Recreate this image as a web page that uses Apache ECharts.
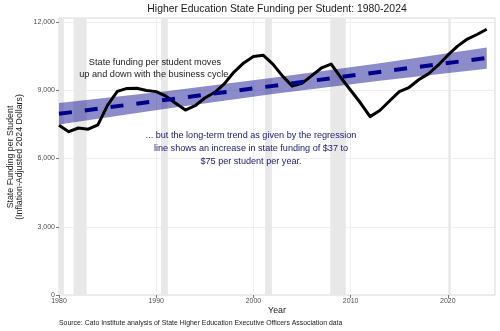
<!DOCTYPE html>
<html>
<head>
<meta charset="utf-8">
<script src="https://cdn.jsdelivr.net/npm/echarts@6/dist/echarts.min.js"></script>
<style>html,body{margin:0;padding:0;background:#fff}#c{width:500px;height:331px}</style>
</head>
<body>
<div id="c"></div>
<script>
// ---- data ----
const years = [1980,1981,1982,1983,1984,1985,1986,1987,1988,1989,
               1990,1991,1992,1993,1994,1995,1996,1997,1998,1999,
               2000,2001,2002,2003,2004,2005,2006,2007,2008,2009,
               2010,2011,2012,2013,2014,2015,2016,2017,2018,2019,
               2020,2021,2022,2023,2024];
const funding = [7460,7180,7340,7290,7480,8350,8950,9080,9090,8990,
                 8940,8740,8430,8130,8320,8660,8900,9280,9800,10200,
                 10480,10540,10150,9620,9180,9300,9640,9980,10150,9550,
                 9000,8450,7840,8110,8530,8940,9120,9460,9720,10100,
                 10540,10940,11250,11450,11680];
const trendYears = [1980, 2024];
const trendValues = [7965, 10420];
const bandYears = [1980, 1991, 2002, 2013, 2024];
const bandLower = [7500, 8190, 8830, 9420, 9950];
const bandUpper = [8440, 8960, 9550, 10190, 10880];
const recessionStart = [1980.0, 1981.5, 1990.5, 2001.2, 2007.9, 2020.1];
const recessionEnd   = [1980.5, 1982.85, 1991.2, 2001.9, 2009.5, 2020.3];
const xTicks = [1980, 1990, 2000, 2010, 2020];
const yTicks = [0, 3000, 6000, 9000, 12000];
const titleText = 'Higher Education State Funding per Student: 1980-2024';
const yTitle = 'State Funding per Student\n(Inflation-Adjusted 2024 Dollars)';
const xTitle = 'Year';
const note1 = 'State funding per student moves\nup and down with the business cycle.';
const note2 = '... but the long-term trend as given by the regression\nline shows an increase in state funding of $37 to\n$75 per student per year.';
const sourceText = 'Source: Cato Institute analysis of State Higher Education Executive Officers Association data';

const FONT = '"Liberation Sans", Arial, Helvetica, sans-serif';
const chart = echarts.init(document.getElementById('c'), null, {renderer: 'canvas'});

const fundingData = years.map((y, i) => [y, funding[i]]);
const trendData = trendYears.map((y, i) => [y, trendValues[i]]);
const recessionData = recessionStart.map((s, i) => [s, recessionEnd[i]]);

const option = {
  animation: false,
  backgroundColor: '#ffffff',
  textStyle: {fontFamily: FONT},
  grid: {
    left: 59, right: 5, top: 18, bottom: 36,
    show: true, borderColor: '#cfcfcf', borderWidth: 0.8, backgroundColor: '#ffffff'
  },
  xAxis: {
    type: 'value', min: 1980, max: 2024.85, interval: 10,
    axisLine: {show: false},
    axisTick: {show: true, length: 3, lineStyle: {color: '#555', width: 0.8}, customValues: xTicks},
    axisLabel: {fontSize: 7, color: '#4d4d4d', margin: 3, fontFamily: FONT,
      customValues: xTicks, formatter: v => String(v)},
    splitLine: {show: true, lineStyle: {color: '#ebebeb', width: 0.8}}
  },
  yAxis: {
    type: 'value', min: 0, max: 12176, interval: 3000,
    axisLine: {show: false},
    axisTick: {show: true, length: 3, lineStyle: {color: '#555', width: 0.8}, customValues: yTicks},
    axisLabel: {fontSize: 7, color: '#4d4d4d', margin: 4, fontFamily: FONT,
      customValues: yTicks, formatter: v => v.toLocaleString('en-US')},
    splitLine: {show: true, lineStyle: {color: '#ebebeb', width: 0.8}}
  },
  series: [
    {
      type: 'custom', name: 'recessions', z: 1,
      data: recessionData,
      encode: {x: [0, 1]},
      silent: true,
      renderItem: (params, api) => {
        const x0 = api.coord([api.value(0), 0])[0];
        const x1 = api.coord([api.value(1), 0])[0];
        const cs = params.coordSys;
        return {type: 'rect', shape: {x: x0, y: cs.y, width: x1 - x0, height: cs.height},
                style: {fill: '#e8e8e8'}};
      }
    },
    {
      type: 'custom', name: 'band', z: 2,
      data: [[bandYears[0], bandLower[0]]],
      silent: true,
      renderItem: (params, api) => {
        const pts = [];
        for (let i = 0; i < bandYears.length; i++) pts.push(api.coord([bandYears[i], bandUpper[i]]));
        for (let i = bandYears.length - 1; i >= 0; i--) pts.push(api.coord([bandYears[i], bandLower[i]]));
        return {type: 'polygon', shape: {points: pts}, style: {fill: 'rgba(0,0,139,0.45)'}};
      }
    },
    {
      type: 'line', name: 'funding', z: 3,
      data: fundingData, showSymbol: false, smooth: false,
      lineStyle: {color: '#000000', width: 3, join: 'round'},
      silent: true
    },
    {
      type: 'line', name: 'trend', z: 4,
      data: trendData, showSymbol: false,
      lineStyle: {color: '#00008b', width: 4, type: [13, 13], cap: 'butt'},
      silent: true
    }
  ],
  graphic: [
    {type: 'text', x: 277, y: 9, style: {text: titleText, fontSize: 10.4, fill: '#1a1a1a',
      fontFamily: FONT, textAlign: 'center', textVerticalAlign: 'middle'}},
    {type: 'text', x: 15, y: 157, rotation: Math.PI / 2, style: {text: yTitle, fontSize: 8.8,
      lineHeight: 9.5, fill: '#1a1a1a', fontFamily: FONT, textAlign: 'center', textVerticalAlign: 'middle'}},
    {type: 'text', x: 277, y: 311, style: {text: xTitle, fontSize: 8.8, fill: '#1a1a1a',
      fontFamily: FONT, textAlign: 'center', textVerticalAlign: 'middle'}},
    {type: 'text', x: 59, y: 323, style: {text: sourceText, fontSize: 6.9, fill: '#1a1a1a',
      fontFamily: FONT, textAlign: 'left', textVerticalAlign: 'middle'}},
    {type: 'text', x: 155, y: 68.5, z: 10, style: {text: note1, fontSize: 9.2, lineHeight: 11.5,
      fill: '#1a1a1a', fontFamily: FONT, textAlign: 'center', textVerticalAlign: 'middle'}},
    {type: 'text', x: 251, y: 148, z: 10, style: {text: note2, fontSize: 9.1, lineHeight: 13,
      fill: '#191970', fontFamily: FONT, textAlign: 'center', textVerticalAlign: 'middle'}}
  ]
};
chart.setOption(option);
</script>
</body>
</html>
